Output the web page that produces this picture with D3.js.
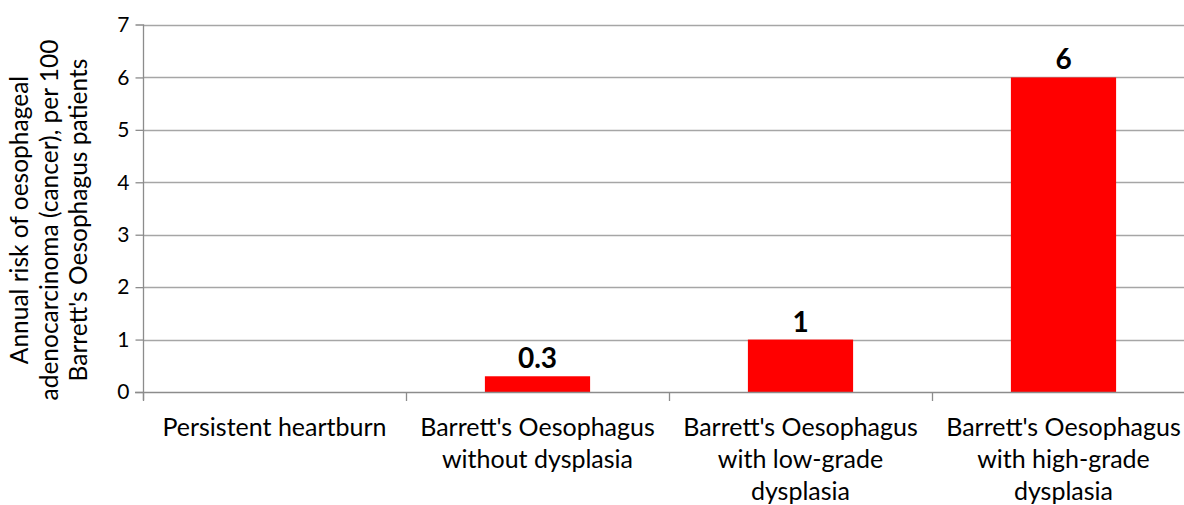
<!DOCTYPE html>
<html>
<head>
<meta charset="utf-8">
<script src="https://cdn.jsdelivr.net/npm/d3@7"></script>
<style>
  html, body { margin: 0; padding: 0; background: #fff; }
  svg { display: block; font-family: Lato, "Open Sans", sans-serif; }
</style>
</head>
<body>
<div id="chart"></div>
<script>
// ---- data ----
const categories = [
  "Persistent heartburn",
  "Barrett's Oesophagus without dysplasia",
  "Barrett's Oesophagus with low-grade dysplasia",
  "Barrett's Oesophagus with high-grade dysplasia"
];
const categoryLines = [
  ["Persistent heartburn"],
  ["Barrett's Oesophagus", "without dysplasia"],
  ["Barrett's Oesophagus", "with low-grade", "dysplasia"],
  ["Barrett's Oesophagus", "with high-grade", "dysplasia"]
];
const values = [null, 0.3, 1, 6];
const valueLabels = ["", "0.3", "1", "6"];
const yTicks = [0, 1, 2, 3, 4, 5, 6, 7];
const yTitleLines = [
  "Annual risk of oesophageal",
  "adenocarcinoma (cancer), per 100",
  "Barrett's Oesophagus patients"
];

// ---- layout ----
const W = 1184, H = 505;
const svg = d3.select("#chart").append("svg").attr("width", W).attr("height", H);

const x = d3.scaleBand().domain(categories).range([143, 1195]).paddingInner(0.6).paddingOuter(0.3);
const y = d3.scaleLinear().domain([0, 7]).range([392, 25]);

// gridlines
svg.append("g").selectAll("line").data(yTicks.filter(d => d > 0)).join("line")
  .attr("x1", 143).attr("x2", 1195)
  .attr("y1", d => Math.round(y(d)) + 0.5).attr("y2", d => Math.round(y(d)) + 0.5)
  .attr("stroke", "#a6a6a6").attr("stroke-width", 1.3);

// bars
svg.append("g").selectAll("rect").data(categories.map((c, i) => ({c, v: values[i]})).filter(d => d.v != null)).join("rect")
  .attr("x", d => x(d.c)).attr("width", x.bandwidth())
  .attr("y", d => y(d.v)).attr("height", d => y(0) - y(d.v))
  .attr("fill", "#ff0000");

// y axis
const yAxis = svg.append("g").attr("transform", "translate(143.5,0)")
  .call(d3.axisLeft(y).tickValues(yTicks).tickSize(8).tickPadding(6).tickFormat(d3.format("d")));
yAxis.select(".domain").attr("stroke", "#8c8c8c").attr("stroke-width", 1.3).attr("d", `M-8,${y(7)}H0V${y(0)+8}`);
yAxis.selectAll(".tick line").attr("stroke", "#8c8c8c").attr("stroke-width", 1.3);
yAxis.selectAll(".tick text").attr("font-size", 21).attr("fill", "#000").attr("font-family", "Lato");
yAxis.selectAll(".tick").filter(d => d === 7).select("line").remove();

// x axis baseline
const boundaries = [0, 1, 2, 3, 4].map(i => 143 + i * x.step());
svg.append("line").attr("x1", 135).attr("x2", 1195)
  .attr("y1", y(0) + 0.5).attr("y2", y(0) + 0.5)
  .attr("stroke", "#8c8c8c").attr("stroke-width", 1.3);
svg.append("g").selectAll("line").data(boundaries).join("line")
  .attr("x1", d => Math.round(d) + 0.5).attr("x2", d => Math.round(d) + 0.5)
  .attr("y1", y(0)).attr("y2", y(0) + 9)
  .attr("stroke", "#8c8c8c").attr("stroke-width", 1.3);

// category labels
const cat = svg.append("g").selectAll("text").data(categories).join("text")
  .attr("x", d => x(d) + x.bandwidth() / 2)
  .attr("y", 436)
  .attr("text-anchor", "middle")
  .attr("font-size", 25)
  .attr("fill", "#000");
cat.each(function(d, i) {
  d3.select(this).selectAll("tspan").data(categoryLines[i]).join("tspan")
    .attr("x", x(d) + x.bandwidth() / 2)
    .attr("dy", (t, j) => j === 0 ? 0 : 32)
    .text(t => t);
});

// value labels
svg.append("g").selectAll("text").data(categories.map((c, i) => ({c, v: values[i], l: valueLabels[i]})).filter(d => d.v != null)).join("text")
  .attr("x", d => x(d.c) + x.bandwidth() / 2)
  .attr("y", d => y(d.v) - 8)
  .attr("text-anchor", "middle")
  .attr("font-size", 28).attr("font-weight", "bold")
  .attr("fill", "#000")
  .text(d => d.l);

// y axis title
const title = svg.append("text")
  .attr("transform", "translate(0,220) rotate(-90)")
  .attr("text-anchor", "middle")
  .attr("font-size", 24.5)
  .attr("fill", "#000");
title.selectAll("tspan").data(yTitleLines).join("tspan")
  .attr("x", 0)
  .attr("y", (t, j) => 28 + j * 29.5)
  .text(t => t);
</script>
</body>
</html>
